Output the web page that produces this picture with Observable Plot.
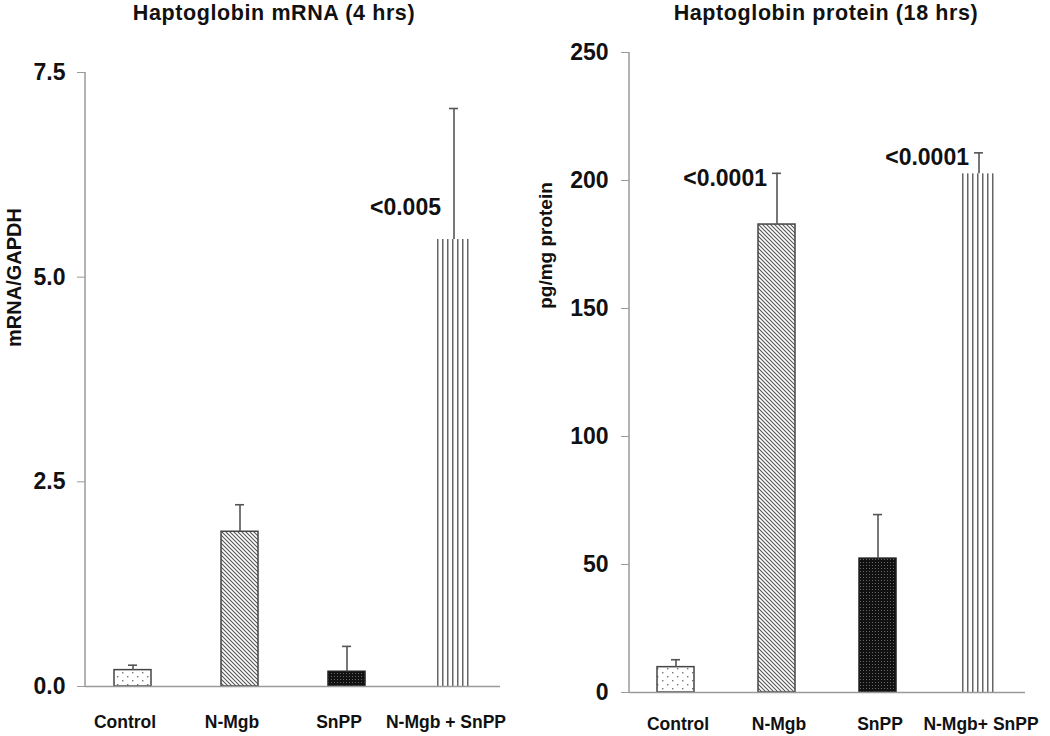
<!DOCTYPE html>
<html><head><meta charset="utf-8">
<script src="https://cdn.jsdelivr.net/npm/d3@7"></script>
<script src="https://cdn.jsdelivr.net/npm/@observablehq/plot@0.6"></script>
<style>
body{margin:0;background:#fff;font-family:"Liberation Sans",Arial,sans-serif;color:#111;}
#wrap{position:relative;width:1050px;height:736px;overflow:hidden;}
.panel{position:absolute;top:30px;}
.title{position:absolute;top:1px;font-weight:bold;font-size:21.5px;letter-spacing:0.6px;white-space:nowrap;transform:translateX(-50%);}
</style></head>
<body>
<svg width="0" height="0" style="position:absolute">
<defs>
<pattern id="pDots" patternUnits="userSpaceOnUse" width="10" height="8"><rect width="10" height="8" fill="#fff"/><rect x="2" y="2" width="1.4" height="1.4" fill="#777"/><rect x="7" y="6" width="1.4" height="1.4" fill="#777"/></pattern>
<pattern id="pDiag" patternUnits="userSpaceOnUse" width="4" height="4"><rect width="4" height="4" fill="#fff"/><path d="M-1,-1 L5,5 M-1,3 L1,5 M3,-1 L5,1" stroke="#555" stroke-width="1.1"/></pattern>
<pattern id="pDense" patternUnits="userSpaceOnUse" width="3" height="3"><rect width="3" height="3" fill="#111"/><rect x="1" y="1" width="1" height="1" fill="#666"/></pattern>
<pattern id="pVert" patternUnits="userSpaceOnUse" width="5" height="5"><rect x="2" y="0" width="1.5" height="5" fill="#666"/></pattern>
</defs></svg>
<div id="wrap">
  <div class="title" style="left:274px">Haptoglobin mRNA (4 hrs)</div>
  <div class="title" style="left:826px">Haptoglobin protein (18 hrs)</div>
  <div class="panel" id="left" style="left:0px"></div>
  <div class="panel" id="right" style="left:520px"></div>
</div>
<script>
// ---- data ----
const categoriesMrna = ["Control", "N-Mgb", "SnPP", "N-Mgb + SnPP"];
const categoriesProtein = ["Control", "N-Mgb", "SnPP", "N-Mgb+ SnPP"];
const mrnaMean = [0.20, 1.89, 0.18, 5.46];
const mrnaErr = [0.06, 0.33, 0.31, 1.60];
const proteinMean = [9.9, 182.8, 52.3, 202.6];
const proteinErr = [2.9, 20.0, 17.2, 8.2];
const mrnaTicks = [0, 2.5, 5.0, 7.5];
const proteinTicks = [0, 50, 100, 150, 200, 250];
const mrnaNoteCats = ["N-Mgb + SnPP"];
const mrnaNoteText = ["<0.005"];
const mrnaNoteValue = [5.85];
const proteinNoteCats = ["N-Mgb", "N-Mgb+ SnPP"];
const proteinNoteText = ["<0.0001", "<0.0001"];
const proteinNoteValue = [200.8, 209.1];

// ---- styles ----
const fills = ["url(#pDots)", "url(#pDiag)", "url(#pDense)", "url(#pVert)"];
const strokes = ["#444", "#444", "#222", "none"];
const FONT = '"Liberation Sans", Arial, sans-serif';

function panel(o) {
  const rows = o.cats.map((c, i) => ({cat: c, mean: o.mean[i], top: o.mean[i] + o.err[i], fill: fills[i], stroke: strokes[i]}));
  const notes = o.noteCats.map((c, i) => ({cat: c, text: o.noteText[i], y: o.noteValue[i]}));
  const yMax = o.ticks[o.ticks.length - 1];
  return Plot.plot({
    width: o.width, height: 706,
    marginLeft: o.ml, marginRight: o.mr, marginTop: o.mt, marginBottom: o.mb,
    x: {domain: o.cats, paddingInner: o.pi, paddingOuter: o.po, axis: null},
    y: {domain: [0, yMax], axis: null},
    color: {type: "identity"},
    style: {fontFamily: FONT, color: "#111", background: "transparent", overflow: "visible"},
    marks: [
      (index, scales, values, dims) => {
        const y = scales.y;
        return d3.create("svg:line")
          .attr("x1", dims.marginLeft).attr("x2", dims.marginLeft)
          .attr("y1", y(0)).attr("y2", y(yMax))
          .attr("stroke", "#9a9a9a").attr("stroke-width", 1.5).node();
      },
      Plot.axisY({ticks: o.ticks, tickFormat: o.fmt, tickSize: 8, tickPadding: o.ypad, stroke: "#9a9a9a", fill: "#111",
        fontSize: 23, fontWeight: "bold", label: null}),
      Plot.axisX({tickSize: 0, tickPadding: o.xpad, dx: o.xdx, fontSize: 17.5, fontWeight: "bold", fill: "#111", label: null}),
      Plot.barY(rows, {x: "cat", y: "mean", fill: "fill", stroke: "stroke", strokeWidth: 1.5}),
      Plot.ruleY([0], {stroke: "#9a9a9a", strokeWidth: 1.5}),
      Plot.ruleX(rows, {x: "cat", y1: "mean", y2: "top", stroke: "#555", strokeWidth: 1.6}),
      Plot.tickY(rows, {x: "cat", y: "top", stroke: "#555", strokeWidth: 1.6, insetLeft: 14, insetRight: 14}),
      Plot.text(notes, {x: "cat", y: "y", text: "text", textAnchor: "end", dx: o.noteDx, fontSize: 23, fontWeight: "bold", fill: "#111"}),
      Plot.text([o.label], {frameAnchor: "top-left", textAnchor: "middle", lineAnchor: "middle", dx: o.labelDx, dy: o.labelDy,
        rotate: -90, fontSize: o.labelSize, fontWeight: "bold", fill: "#111"})
    ]
  });
}

document.getElementById("left").append(panel({
  cats: categoriesMrna, mean: mrnaMean, err: mrnaErr, ticks: mrnaTicks, fmt: d3.format(".1f"),
  noteCats: mrnaNoteCats, noteText: mrnaNoteText, noteValue: mrnaNoteValue, noteDx: -13,
  width: 520, ml: 85, mr: 20, mt: 42, mb: 50, pi: 0.655, po: 0.26, xpad: 29, ypad: 12, xdx: -8,
  label: "mRNA/GAPDH", labelDx: -71, labelDy: 205, labelSize: 20
}));
document.getElementById("right").append(panel({
  cats: categoriesProtein, mean: proteinMean, err: proteinErr, ticks: proteinTicks, fmt: d3.format("d"),
  noteCats: proteinNoteCats, noteText: proteinNoteText, noteValue: proteinNoteValue, noteDx: -10,
  width: 530, ml: 109, mr: 25, mt: 22, mb: 44, pi: 0.636, po: 0.267, xpad: 25, ypad: 13, xdx: 2,
  label: "pg/mg protein", labelDx: -84, labelDy: 193, labelSize: 19
}));
</script>
</body></html>
